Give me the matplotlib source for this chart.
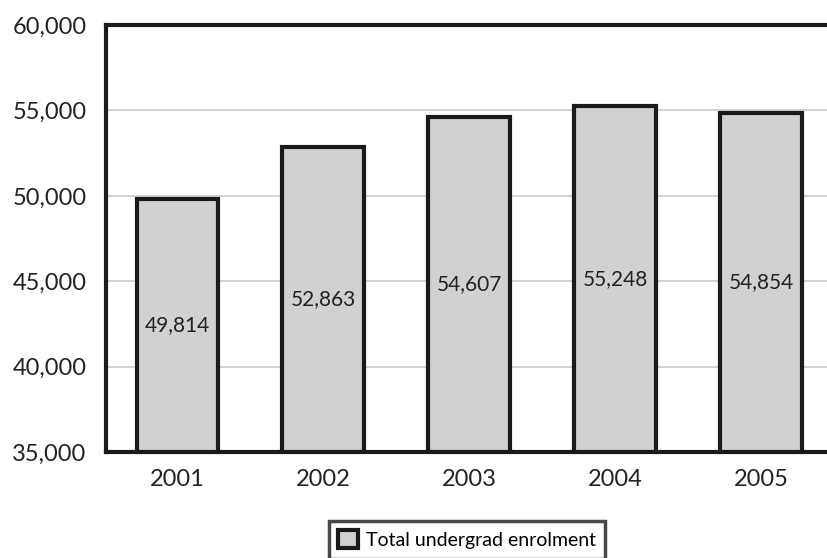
import numpy as np
import matplotlib
matplotlib.use("Agg")
import matplotlib.pyplot as plt
from matplotlib.ticker import FuncFormatter

plt.rcParams["font.family"] = ["Lato", "DejaVu Sans"]

# ── Data ────────────────────────────────────────────────────────────────────
years = ["2001", "2002", "2003", "2004", "2005"]
enrolment = [49814, 52863, 54607, 55248, 54854]
series_label = "Total undergrad enrolment"
y_ticks = [35000, 40000, 45000, 50000, 55000, 60000]

BAR_COLOR = "#cfd1d3"
Y_MIN, Y_MAX = 35000, 60000

fig = plt.figure(figsize=(8.27, 5.58), dpi=100)
ax = fig.add_axes([0.128, 0.19, 0.872, 0.765])

x = np.arange(len(years))
bars = ax.bar(x, [v - Y_MIN for v in enrolment], bottom=Y_MIN, width=0.56,
              color=BAR_COLOR, edgecolor="#1a1a1a", linewidth=3,
              label=series_label, zorder=3)

# value labels at the middle of each bar
for xi, v in zip(x, enrolment):
    ax.text(xi, (Y_MIN + v) / 2, f"{v:,}", ha="center", va="center",
            fontsize=15, color="#222222", zorder=4)

ax.set_xlim(-0.49, 4.45)
ax.set_ylim(Y_MIN, Y_MAX)
ax.set_xticks(x)
ax.set_xticklabels(years)
ax.set_yticks(y_ticks)
ax.yaxis.set_major_formatter(FuncFormatter(lambda v, _: f"{int(v):,}"))
ax.tick_params(axis="both", length=0, labelsize=17, colors="#222222")
ax.tick_params(axis="x", pad=12)
ax.tick_params(axis="y", pad=14)

ax.grid(axis="y", color="#cccccc", linewidth=1.2, zorder=0)
for side in ["left", "top", "bottom"]:
    ax.spines[side].set_linewidth(3)
    ax.spines[side].set_color("#1a1a1a")
ax.spines["right"].set_visible(False)

leg = fig.legend(handles=[bars], labels=[series_label], loc="upper center",
                 bbox_to_anchor=(467 / 827, 1 - 511 / 558), fancybox=False,
                 edgecolor="#1a1a1a", fontsize=14, handlelength=1.0,
                 handleheight=1.0, handletextpad=0.4, borderpad=0.5)
leg.get_frame().set_linewidth(2.5)

fig.savefig("out.png", dpi=100)
